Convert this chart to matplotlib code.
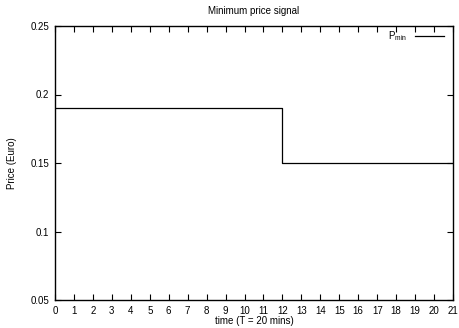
import matplotlib
matplotlib.use("Agg")
from matplotlib import pyplot as plt

plt.rcParams["font.family"] = ["Liberation Sans", "DejaVu Sans"]
plt.rcParams["font.size"] = 7
plt.rcParams["mathtext.fontset"] = "custom"
plt.rcParams["mathtext.rm"] = "Liberation Sans"
plt.rcParams["mathtext.it"] = "Liberation Sans"

# step signal: value holds until the next time
times = [0, 12, 21]
prices = [0.19, 0.15, 0.15]
x_ticks = list(range(0, 22))
y_ticks = [0.05, 0.1, 0.15, 0.2, 0.25]
y_labels = ["0.05", "0.1", "0.15", "0.2", "0.25"]

fig = plt.figure(figsize=(4.59, 3.28), dpi=100)
ax = fig.add_axes([55 / 459, 28 / 328, 398 / 459, 274 / 328])

ax.plot(times, prices, drawstyle="steps-post", color="black", lw=0.9,
        label=r"P$_{\rm min}$")

ax.set_xlim(0, 21)
ax.set_ylim(0.05, 0.25)
ax.set_xticks(x_ticks)
ax.set_yticks(y_ticks)
ax.set_yticklabels(y_labels)
ax.tick_params(direction="in", top=True, right=True, length=4, width=0.8)
ax.tick_params(axis="x", pad=4)
ax.tick_params(axis="y", pad=4)
for sp in ax.spines.values():
    sp.set_linewidth(1.0)

ax.set_title("Minimum price signal", fontsize=7, pad=9)
ax.set_xlabel("time (T = 20 mins)", labelpad=0)
ax.set_ylabel("Price (Euro)", labelpad=10)

ax.legend(loc="upper right", bbox_to_anchor=(1.0, 1.02), frameon=False,
          handlelength=3.0, fontsize=7, markerfirst=False, handletextpad=0.8)

fig.savefig("out.png", dpi=100)
